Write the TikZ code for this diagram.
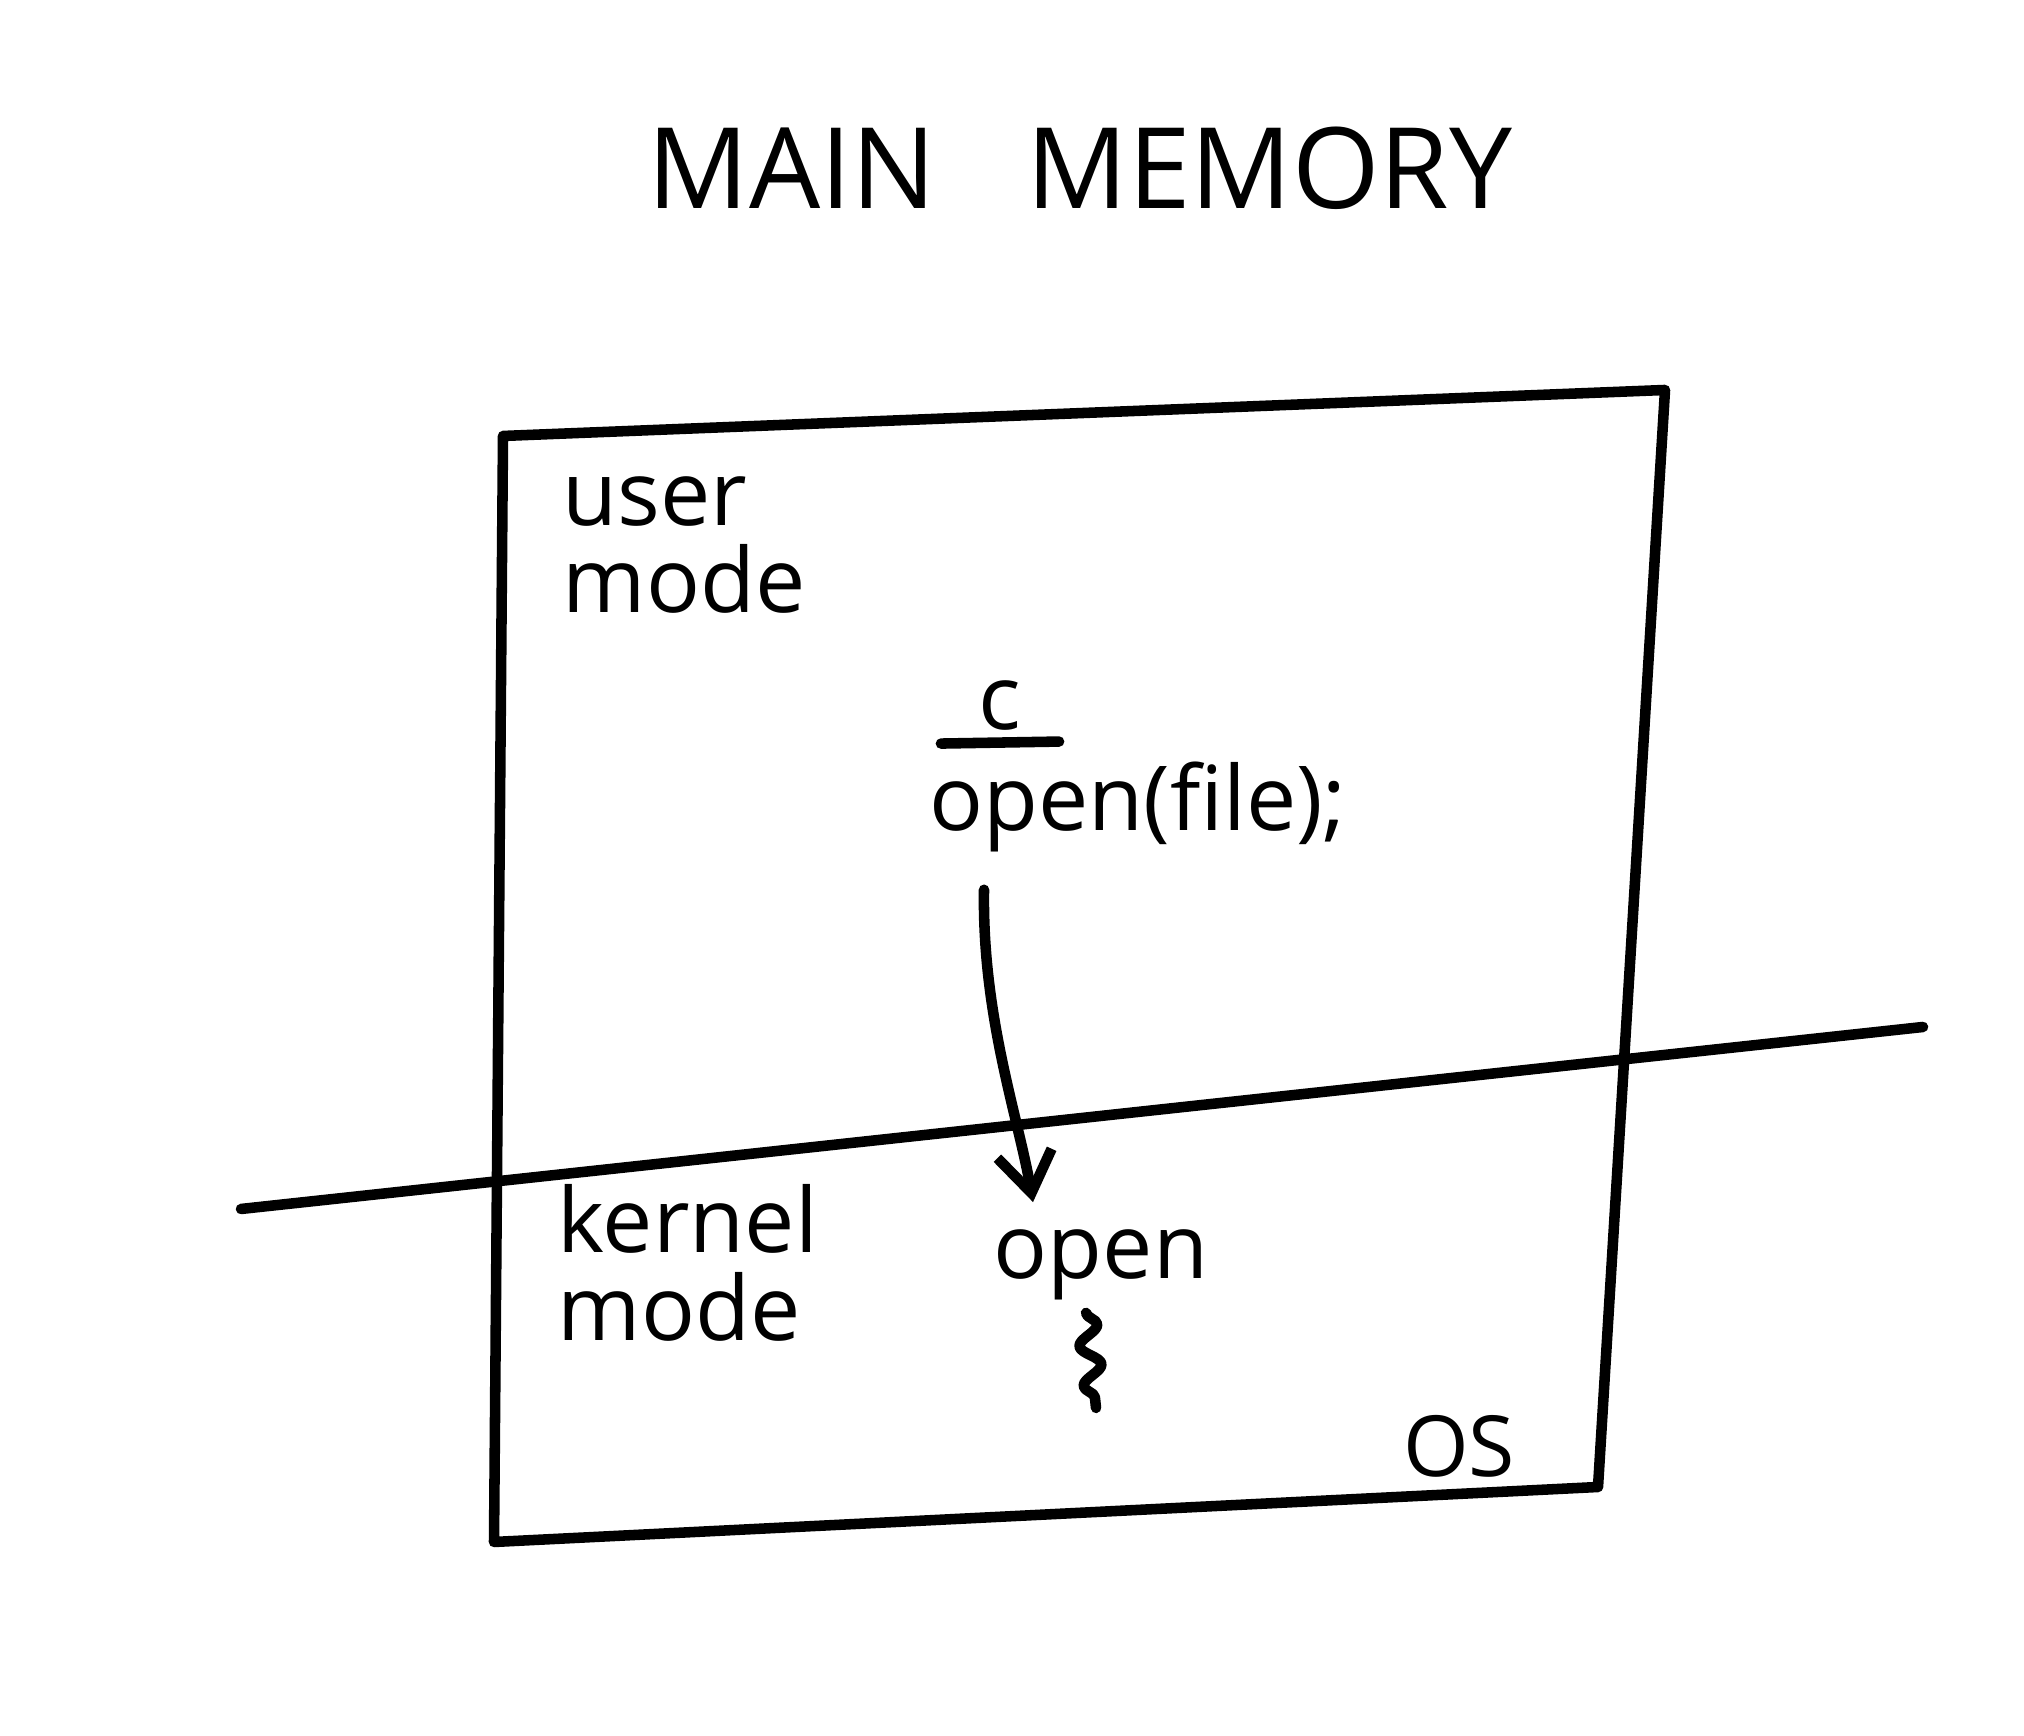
\documentclass[tikz,border=0pt]{standalone}
\usepackage{fontspec}
\setmainfont{Open Sans}
\usetikzlibrary{arrows.meta,decorations.pathmorphing}

\tikzset{
  hand/.style={font=\fontsize{25.5}{25}\selectfont, inner sep=2pt},
  pen/.style={line width=3pt, line cap=round, line join=round},
}

\begin{document}
\begin{tikzpicture}
\useasboundingbox (0,0) rectangle (20.24,17.36);

\node(title)[font=\fontsize{32}{36}\selectfont] at (10.80, 15.68) {MAIN\hspace{0.9cm}MEMORY};

% memory box
\coordinate (tl) at ( 5.03, 13.00);
\coordinate (tr) at (16.65, 13.46);
\coordinate (br) at (15.98,  2.49);
\coordinate (bl) at ( 4.94,  1.94);
\draw[pen] (tl) -- (tr) -- (br) -- (bl) -- cycle;

% user / kernel border
\coordinate (cutl) at ( 2.41, 5.27);
\coordinate (cutr) at (19.23, 7.09);
\draw[pen] (cutl) -- (cutr);

\node(user)[hand, align=left, anchor=west]   at ( 5.55, 11.91) {user\\mode};
\node(lang)[hand]                            at (10.00, 10.30) {c};
\node(ofile)[hand]                           at (11.38,  9.29) {open(file);};
\node(kernel)[hand, align=left, anchor=west] at ( 5.50,  4.73) {kernel\\mode};
\node(kopen)[hand]                           at (11.01,  4.71) {open};
\node(os)[font=\fontsize{24}{26}\selectfont] at (14.59,  2.90) {OS};

\draw[pen] ([xshift=-0.3cm, yshift=-0.05cm]lang.south west) -- ([xshift=0.3cm, yshift=-0.03cm]lang.south east);

\draw[pen, -{Straight Barb[length=4mm, width=5.5mm]}]
  ([xshift=-1.54cm, yshift=-0.3cm]ofile.south) .. controls (9.82, 7.2) and (10.18, 6.2) .. ([xshift=-0.68cm, yshift=0.2cm]kopen.north);

\draw[pen, decorate, decoration={snake, segment length=4mm, amplitude=1mm}]
  ([xshift=-0.15cm, yshift=-0.05cm]kopen.south) -- ([xshift=-0.05cm, yshift=-1.0cm]kopen.south);

\end{tikzpicture}
\end{document}
